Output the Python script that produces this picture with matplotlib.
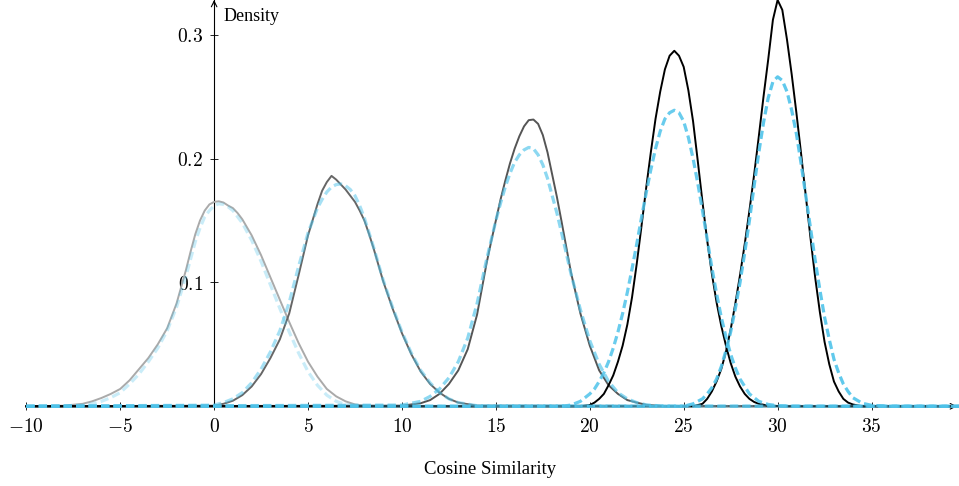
import matplotlib
matplotlib.use("Agg")
import matplotlib.pyplot as plt

plt.rcParams["mathtext.fontset"] = "cm"

# curva 1
xs1 = [-10, -8, -7, -6.5, -6, -5.5, -5, -4.5, -4, -3.5, -3, -2.5, -2, -1.5, -1.25, -1, -0.75, -0.5, -0.25,
       0, 0.25, 0.5, 0.75, 1, 1.25, 1.5, 2, 2.5, 3, 3.5, 4, 4.5, 5, 5.5, 6, 6.5, 7, 7.5, 8, 9, 40]
ys1 = [0, 0.0005, 0.002, 0.004, 0.0067, 0.010, 0.014, 0.021, 0.030, 0.039, 0.050, 0.063, 0.083, 0.110,
       0.125, 0.139, 0.150, 0.158, 0.163, 0.165, 0.1655, 0.1645, 0.162, 0.160, 0.156, 0.151, 0.138, 0.122,
       0.104, 0.086, 0.068, 0.051, 0.036, 0.024, 0.014, 0.008, 0.004, 0.0015, 0.0005, 0, 0]
xd1 = [-10, -8, -7, -6.5, -6, -5.5, -5, -4.5, -4, -3.5, -3, -2.5, -2, -1.5, -1.25, -1, -0.75, -0.5, -0.25,
       0, 0.25, 0.5, 0.75, 1, 1.5, 2, 2.5, 3, 3.5, 4, 4.5, 5, 5.5, 6, 6.5, 7, 7.5, 8, 9, 40]
yd1 = [0, 0.0003, 0.001, 0.002, 0.004, 0.007, 0.011, 0.018, 0.026, 0.036, 0.047, 0.061, 0.080, 0.105,
       0.119, 0.133, 0.144, 0.153, 0.158, 0.162, 0.1635, 0.163, 0.161, 0.158, 0.148, 0.134, 0.117, 0.098,
       0.079, 0.060, 0.043, 0.028, 0.017, 0.009, 0.004, 0.0015, 0.0005, 0.0002, 0, 0]

# curva 2
xs2 = [-10, 0, 0.5, 1, 1.5, 2, 2.5, 3, 3.5, 4, 4.5, 5, 5.5, 5.75, 6, 6.25, 6.5, 6.75, 7, 7.25, 7.5, 7.75,
       8, 8.25, 8.5, 9, 9.5, 10, 10.5, 11, 11.5, 12, 12.5, 13, 14, 40]
ys2 = [0, 0.0005, 0.002, 0.0045, 0.009, 0.016, 0.026, 0.039, 0.054, 0.075, 0.106, 0.138, 0.163, 0.174,
       0.181, 0.186, 0.183, 0.179, 0.175, 0.170, 0.165, 0.158, 0.150, 0.139, 0.127, 0.101, 0.079, 0.059,
       0.042, 0.028, 0.018, 0.011, 0.006, 0.003, 0.0005, 0]
xd2 = [-10, 0, 0.5, 1, 1.5, 2, 2.5, 3, 3.5, 4, 4.5, 5, 5.5, 5.75, 6, 6.25, 6.5, 6.75, 7, 7.25, 7.5, 7.75,
       8, 8.25, 8.5, 9, 9.5, 10, 10.5, 11, 11.5, 12, 12.5, 13, 14, 40]
yd2 = [0, 0.001, 0.003, 0.006, 0.011, 0.019, 0.030, 0.044, 0.061, 0.084, 0.113, 0.140, 0.160, 0.167,
       0.173, 0.177, 0.179, 0.1795, 0.178, 0.175, 0.170, 0.162, 0.152, 0.140, 0.128, 0.102, 0.080, 0.060,
       0.043, 0.029, 0.019, 0.011, 0.006, 0.003, 0.0005, 0]

# curva 3
xs3 = [-10, 10, 11, 11.5, 12, 12.5, 13, 13.5, 14, 14.5, 14.75, 15, 15.25, 15.5, 15.75, 16, 16.25, 16.5,
       16.75, 17, 17.25, 17.5, 17.75, 18, 18.25, 18.5, 19, 19.5, 20, 20.5, 21, 21.5, 22, 22.5, 23, 24, 40]
ys3 = [0, 0.0005, 0.0025, 0.005, 0.010, 0.018, 0.029, 0.046, 0.074, 0.115, 0.133, 0.150, 0.167, 0.182,
       0.196, 0.208, 0.218, 0.226, 0.231, 0.2315, 0.228, 0.219, 0.205, 0.187, 0.169, 0.149, 0.108, 0.075,
       0.049, 0.029, 0.017, 0.010, 0.005, 0.003, 0.0012, 0, 0]
xd3 = [-10, 10, 11, 11.5, 12, 12.5, 13, 13.5, 14, 14.5, 14.75, 15, 15.25, 15.5, 15.75, 16, 16.25, 16.5,
       16.75, 17, 17.25, 17.5, 17.75, 18, 18.25, 18.5, 19, 19.5, 20, 20.5, 21, 21.5, 22, 22.5, 23, 24, 40]
yd3 = [0, 0.001, 0.004, 0.008, 0.014, 0.023, 0.036, 0.055, 0.083, 0.118, 0.134, 0.150, 0.164, 0.177,
       0.188, 0.197, 0.203, 0.207, 0.209, 0.208, 0.203, 0.195, 0.184, 0.170, 0.156, 0.140, 0.107, 0.078,
       0.053, 0.034, 0.020, 0.011, 0.006, 0.003, 0.0012, 0, 0]

# curva 4
xs4 = [-10, 19.5, 20, 20.25, 20.5, 20.75, 21, 21.25, 21.5, 21.75, 22, 22.25, 22.5, 22.75, 23, 23.25, 23.5,
       23.75, 24, 24.25, 24.5, 24.75, 25, 25.25, 25.5, 25.75, 26, 26.25, 26.5, 26.75, 27, 27.25, 27.5,
       27.75, 28, 28.25, 28.5, 28.75, 29, 29.5, 30.5, 40]
ys4 = [0, 0, 0.001, 0.003, 0.006, 0.010, 0.017, 0.025, 0.036, 0.049, 0.066, 0.088, 0.115, 0.145, 0.176,
       0.205, 0.232, 0.254, 0.272, 0.283, 0.287, 0.283, 0.274, 0.255, 0.230, 0.198, 0.165, 0.134, 0.107,
       0.084, 0.065, 0.049, 0.035, 0.024, 0.016, 0.010, 0.006, 0.0035, 0.002, 0.0005, 0, 0]
xd4 = [-10, 18.5, 19, 19.5, 19.75, 20, 20.25, 20.5, 20.75, 21, 21.25, 21.5, 21.75, 22, 22.25, 22.5, 22.75,
       23, 23.25, 23.5, 23.75, 24, 24.25, 24.5, 24.75, 25, 25.25, 25.5, 25.75, 26, 26.25, 26.5, 26.75, 27,
       27.25, 27.5, 27.75, 28, 28.5, 29, 29.5, 30, 31, 40]
yd4 = [0, 0, 0.001, 0.004, 0.007, 0.010, 0.014, 0.020, 0.027, 0.036, 0.047, 0.060, 0.075, 0.092, 0.111,
       0.131, 0.152, 0.172, 0.191, 0.208, 0.222, 0.232, 0.237, 0.239, 0.237, 0.230, 0.217, 0.200, 0.180,
       0.158, 0.135, 0.112, 0.091, 0.072, 0.056, 0.042, 0.031, 0.022, 0.010, 0.004, 0.0015, 0.0005, 0, 0]

# curva 5
xs5 = [-10, 25.5, 26, 26.25, 26.5, 26.75, 27, 27.25, 27.5, 27.75, 28, 28.25, 28.5, 28.75, 29, 29.25, 29.5,
       29.75, 30, 30.25, 30.5, 30.75, 31, 31.25, 31.5, 31.75, 32, 32.25, 32.5, 32.75, 33, 33.25, 33.5,
       33.75, 34, 34.5, 40]
ys5 = [0, 0, 0.002, 0.006, 0.012, 0.020, 0.030, 0.044, 0.062, 0.083, 0.106, 0.131, 0.158, 0.187, 0.218,
       0.250, 0.280, 0.312, 0.328, 0.320, 0.296, 0.268, 0.237, 0.204, 0.170, 0.136, 0.104, 0.076, 0.052,
       0.034, 0.020, 0.012, 0.006, 0.003, 0.0015, 0, 0]
xd5 = [-10, 25, 25.5, 26, 26.25, 26.5, 26.75, 27, 27.25, 27.5, 27.75, 28, 28.25, 28.5, 28.75, 29, 29.25,
       29.5, 29.75, 30, 30.25, 30.5, 30.75, 31, 31.25, 31.5, 31.75, 32, 32.25, 32.5, 32.75, 33, 33.25,
       33.5, 33.75, 34, 34.5, 35, 36, 40]
yd5 = [0, 0, 0.002, 0.006, 0.010, 0.015, 0.022, 0.032, 0.045, 0.060, 0.079, 0.100, 0.124, 0.150, 0.178,
       0.205, 0.229, 0.249, 0.262, 0.266, 0.263, 0.254, 0.239, 0.220, 0.196, 0.170, 0.144, 0.118, 0.094,
       0.072, 0.054, 0.038, 0.027, 0.018, 0.012, 0.007, 0.0025, 0.0008, 0, 0]

solid_x = [xs1, xs2, xs3, xs4, xs5]
solid_y = [ys1, ys2, ys3, ys4, ys5]
dash_x = [xd1, xd2, xd3, xd4, xd5]
dash_y = [yd1, yd2, yd3, yd4, yd5]
solid_colors = ["#aaaaaa", "#666666", "#555555", "#000000", "#000000"]
dash_alphas = [0.3, 0.5, 0.65, 0.85, 0.9]
blue = "#4fc3ea"

x_ticks = [-10, -5, 0, 5, 10, 15, 20, 25, 30, 35]
y_ticks = [0.1, 0.2, 0.3]

fig = plt.figure(figsize=(9.59, 4.86), dpi=100)
ax = fig.add_axes([0.0274, 0.164, 0.9705, 0.836])
ax.set_xlim(-10, 39.55)
ax.set_ylim(0, 0.328)

for i in range(5):
    ax.plot(solid_x[i], solid_y[i], color=solid_colors[i], lw=1.4, clip_on=False, zorder=3,
            solid_joinstyle="round")
    ax.plot(dash_x[i], dash_y[i], color=blue, alpha=dash_alphas[i], lw=2.3, ls=(0, (2.6, 1.3)),
            clip_on=False, zorder=4)

# ejes centrados
ax.spines["left"].set_position(("data", 0))
ax.spines["bottom"].set_position(("data", 0))
ax.spines["right"].set_visible(False)
ax.spines["top"].set_visible(False)
for sp in ["left", "bottom"]:
    ax.spines[sp].set_linewidth(0.8)
    ax.spines[sp].set_zorder(2)

ax.annotate("", xy=(1.0, 0), xytext=(0.99, 0), xycoords=("axes fraction", "data"),
            arrowprops=dict(arrowstyle="->", lw=0.8, color="black", shrinkA=0, shrinkB=0),
            annotation_clip=False)
ax.annotate("", xy=(0, 1.0), xytext=(0, 0.99), xycoords=("data", "axes fraction"),
            arrowprops=dict(arrowstyle="->", lw=0.8, color="black", shrinkA=0, shrinkB=0),
            annotation_clip=False)

ax.set_xticks(x_ticks)
ax.set_xticklabels([f"${t}$" for t in x_ticks])
ax.set_yticks(y_ticks)
ax.set_yticklabels([f"${t}$" for t in y_ticks])
ax.tick_params(direction="inout", length=6, width=0.6, labelsize=14, pad=5)

ax.text(0.5, 0.315, "Density", transform=ax.transData, ha="left", va="center",
        fontsize=13, family="Liberation Serif")
fig.text(0.511, 0.033, "Cosine Similarity", ha="center", va="center",
         fontsize=13.5, family="Liberation Serif")

fig.savefig("out.png", dpi=100)
